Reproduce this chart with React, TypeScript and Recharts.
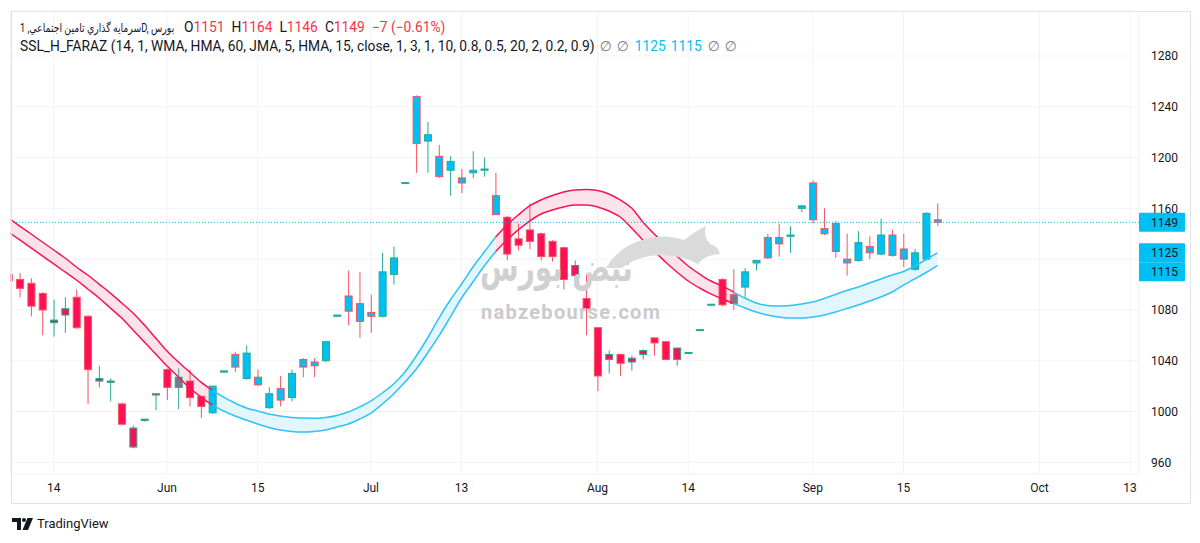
import React from 'react';
import { ComposedChart, Bar, Area, Line, XAxis, YAxis, CartesianGrid, ReferenceLine } from 'recharts';

// ---------- data ----------
const opens = [1108, 1104, 1101, 1093, 1070, 1076, 1090, 1075, 1024, 1023, 1006, 972, 993, 1013, 1033, 1019, 1024, 1012, 999, 1031,
  1045, 1026, 1027, 1003, 1018, 1011, 1041, 1039, 1040, 1075, 1091, 1085, 1078, 1075, 1108, 1180, 1248, 1213, 1201, 1190,
  1184, 1188, 1190, 1170, 1153, 1136, 1143, 1140, 1134, 1129, 1107, 1089, 1066, 1041, 1045, 1039, 1045, 1058, 1055, 1041,
  1046, 1064, 1084, 1104, 1092, 1098, 1117, 1137, 1137, 1138, 1160, 1180, 1144, 1148, 1120, 1119, 1130, 1124, 1139, 1128,
  1112, 1120, 1151];
const highs = [1110, 1109, 1105, 1094, 1088, 1090, 1096, 1076, 1036, 1026, 1007, 989, 994, 1014, 1034, 1034, 1033, 1012, 1020, 1032,
  1047, 1052, 1033, 1019, 1028, 1033, 1042, 1042, 1055, 1076, 1111, 1110, 1092, 1125, 1130, 1180.5, 1249, 1228, 1210, 1201,
  1191, 1205, 1200, 1188, 1154, 1148, 1164, 1141, 1135, 1130, 1119, 1108, 1066, 1048, 1045, 1044, 1049, 1058, 1055, 1050,
  1046.5, 1064.5, 1084.5, 1105, 1112, 1113, 1119, 1140, 1148, 1146, 1162, 1182, 1160, 1150, 1140, 1142, 1138, 1152, 1143, 1140,
  1128, 1157, 1164];
const lows = [1100, 1090, 1075, 1060, 1059, 1062, 1065, 1006, 1019, 1008, 989, 971, 992, 1001, 1009, 1002, 1004, 995, 998, 1031,
  1031, 1025, 1020, 1002, 1004, 1008, 1027, 1027, 1039, 1075, 1068, 1058, 1062, 1074, 1100, 1179.5, 1188, 1188, 1184, 1170,
  1172, 1184, 1185, 1155, 1119, 1127, 1128, 1119, 1118, 1096, 1098, 1060, 1016, 1030, 1028, 1032, 1041, 1044, 1041, 1036,
  1045.5, 1063.5, 1083.5, 1083, 1080, 1090, 1111, 1120, 1122, 1125, 1157, 1148, 1139, 1121, 1107, 1118, 1120, 1123, 1122, 1114,
  1111, 1119, 1146];
const closes = [1103, 1097, 1083, 1080, 1072, 1081, 1066, 1033, 1026, 1024, 990, 987, 994, 1014, 1019, 1027, 1011, 1004, 1020, 1032,
  1035, 1046, 1021, 1014, 1009, 1030, 1035, 1036, 1055, 1076, 1079, 1071, 1075, 1110, 1121, 1180.3, 1211, 1218, 1185, 1197,
  1180, 1190, 1191, 1155, 1124, 1131, 1134, 1122, 1122, 1104, 1115, 1081, 1028, 1045, 1038, 1042, 1048, 1054, 1041, 1050,
  1046.5, 1064.5, 1084.5, 1084, 1085, 1110, 1119, 1121, 1132, 1139, 1162, 1151, 1140, 1126, 1117, 1133, 1125, 1139, 1123, 1120,
  1125, 1156, 1149];

// indicator band (SSL_H_FARAZ) upper / lower lines
const sslUpper = [1152.4, 1146.1, 1139.8, 1133.5, 1127.2, 1120.9, 1113.8, 1107.5, 1100.4, 1093.3, 1085.5, 1077.6, 1068.1, 1057.9,
  1047.7, 1039.0, 1031.1, 1023.2, 1016.9, 1011.4, 1006.7, 1002.8, 1000.4, 998.0, 996.5, 995.3, 994.9, 994.6, 995.3, 996.9,
  999.6, 1003.6, 1008.3, 1014.6, 1021.7, 1031.1, 1043.7, 1057.9, 1073.6, 1087.8, 1100.4, 1113.8, 1125.6, 1137.4, 1146.9,
  1154.8, 1161.9, 1166.6, 1170.1, 1172.9, 1174.5, 1174.9, 1174.1, 1171.3, 1166.6, 1160.3, 1149.3, 1139.8, 1131.1, 1122.5,
  1114.6, 1108.3, 1102.8, 1098.9, 1094.1, 1089.4, 1085.5, 1083.5, 1083.1, 1083.5, 1084.7, 1086.3, 1089.0, 1092.2, 1095.3,
  1098.1, 1101.2, 1104.4, 1107.5, 1110.3, 1114.6, 1119.7, 1125];
const sslLower = [1141.4, 1135.1, 1128.8, 1122.5, 1116.2, 1109.9, 1103.6, 1096.5, 1089.4, 1081.5, 1073.6, 1064.2, 1054.7, 1045.3,
  1035.8, 1027.2, 1018.5, 1011.4, 1005.1, 1000.4, 996.5, 993.3, 990.2, 987.4, 985.4, 984.3, 983.9, 984.3, 985.4, 987.8,
  990.2, 994.1, 998.8, 1005.9, 1013.8, 1023.2, 1033.5, 1046.1, 1059.5, 1074.4, 1089.4, 1102.0, 1114.6, 1125.9, 1135.1,
  1143.0, 1150.0, 1155.6, 1158.7, 1161.1, 1162.6, 1162.6, 1161.1, 1157.9, 1153.2, 1144.5, 1135.1, 1126.4, 1117.8, 1109.9,
  1102.8, 1097.3, 1092.6, 1088.6, 1085.2, 1081.5, 1078.4, 1076.0, 1074.4, 1073.6, 1073.6, 1074.4, 1076.0, 1078.4, 1081.1,
  1083.9, 1087.0, 1090.2, 1094.1, 1099.6, 1104.4, 1109.5, 1115];

// band trend segments [from, to, trend]
const bandSegments: [number, number, string][] = [[0, 18, 'bear'], [18, 43, 'bull'], [43, 64, 'bear'], [64, 82, 'bull']];
// candle body tone runs (b = blue, r = red, g = gray)
const toneRuns: [string, number][] = [['r', 15], ['g', 1], ['r', 2], ['b', 26], ['r', 20], ['g', 1], ['b', 18]];

const xTicks = [4, 14, 22, 32, 40, 52, 60, 71, 79, 91, 99];
const xTickLabels = ['14', 'Jun', '15', 'Jul', '13', 'Aug', '14', 'Sep', '15', 'Oct', '13'];
const yTicks = [960, 1000, 1040, 1080, 1120, 1160, 1200, 1240, 1280];
const yHiddenLabels = [1120]; // covered by the price tags in the reference
const lastClose = 1149;
const sslValues = [1125, 1115];

// ---------- colors ----------
const BLUE = '#00bff3';
const RED_FILL = '#ff1055';
const GRAY = '#787b86';
const TEAL = '#22ab94';
const RED_EDGE = '#f7525f';
const BAND_RED = '#f5145a';
const BAND_BLUE = '#2ec2f5';
const TEXT = '#131722';

const tones: string[] = [];
toneRuns.forEach(([t, n]) => { for (let k = 0; k < n; k++) tones.push(t); });

const segOf = (i: number, t: string) => bandSegments.some(([a, b, tt]) => tt === t && i >= a && i <= b);

const data = opens.map((o, i) => ({
  i,
  o,
  h: highs[i],
  l: lows[i],
  c: closes[i],
  tone: tones[i],
  bearRange: segOf(i, 'bear') ? [sslLower[i], sslUpper[i]] : null,
  bullRange: segOf(i, 'bull') ? [sslLower[i], sslUpper[i]] : null,
  bearUp: segOf(i, 'bear') ? sslUpper[i] : null,
  bearLo: segOf(i, 'bear') ? sslLower[i] : null,
  bullUp: segOf(i, 'bull') ? sslUpper[i] : null,
  bullLo: segOf(i, 'bull') ? sslLower[i] : null,
}));

const Candle = (props: any) => {
  const { x, y, width, height, payload } = props;
  if (payload == null || !isFinite(x) || !isFinite(y)) return null;
  const { o, h, l, c, tone } = payload;
  const cx = x + width / 2;
  const ppu = height / (h - l);
  const Y = (v: number) => y + (h - v) * ppu;
  const up = c >= o;
  const edge = up ? TEAL : RED_EDGE;
  const fill = tone === 'b' ? BLUE : tone === 'g' ? GRAY : RED_FILL;
  const top = Y(Math.max(o, c));
  const bot = Y(Math.min(o, c));
  const bh = Math.max(bot - top, 1);
  return (
    <g>
      <line x1={cx} x2={cx} y1={Y(h)} y2={Y(l)} stroke={edge} strokeWidth={1} />
      <rect x={cx - 3.5} y={top} width={7} height={bh} fill={fill} stroke={edge} strokeWidth={1} />
    </g>
  );
};

const PriceTag = (text: string, shift: number) => (props: any) => {
  const vb = props.viewBox || {};
  const x0 = (vb.x || 0) + (vb.width || 0);
  const yc = (vb.y || 0) + shift;
  return (
    <g>
      <rect x={x0} y={yc - 9.5} width={46} height={19} fill={BLUE} rx={1} />
      <text x={x0 + 12} y={yc} dy="0.355em" fontSize={12} fill={TEXT}>{text}</text>
    </g>
  );
};

const XTick = (props: any) => {
  const { x, y, payload } = props;
  const idx = xTicks.indexOf(payload.value);
  return (
    <text x={x} y={y} dy="0.71em" textAnchor="middle" fontSize={12} fill={TEXT}>
      {idx >= 0 ? xTickLabels[idx] : ''}
    </text>
  );
};

const YTick = (props: any) => {
  const { x, y, payload } = props;
  if (yHiddenLabels.includes(payload.value)) return <g />;
  return (
    <text x={x} y={y} dy="0.355em" textAnchor="start" fontSize={12} fill={TEXT}>
      {payload.value}
    </text>
  );
};

const FONT = "Roboto, 'DejaVu Sans', sans-serif";

export default function App() {
  return (
    <div style={{ position: 'relative', width: 1184, height: 527, fontFamily: FONT, color: TEXT, background: '#fff' }}>
      <ComposedChart
        width={1184}
        height={500}
        data={data}
        margin={{ top: 3, right: 3, bottom: 5, left: 2.7 }}
        style={{ position: 'absolute', left: 0, top: 0 }}
      >
        <CartesianGrid stroke="#f0f3fa" strokeWidth={1} />
        <XAxis
          dataKey="i"
          type="number"
          domain={[0.203, 99.79]}
          allowDataOverflow
          ticks={xTicks}
          interval={0}
          tick={<XTick />}
          tickLine={false}
          axisLine={false}
          tickSize={0}
          tickMargin={9}
          height={29}
        />
        <YAxis
          type="number"
          orientation="right"
          domain={[950.79, 1315.44]}
          allowDataOverflow
          ticks={yTicks}
          interval={0}
          width={50}
          tickLine={false}
          axisLine={false}
          tickSize={0}
          tickMargin={12}
          tick={<YTick />}
        />
        <Area dataKey="bearRange" type="monotone" stroke="none" fill="#fce3ea" fillOpacity={1} isAnimationActive={false} connectNulls={false} />
        <Area dataKey="bullRange" type="monotone" stroke="none" fill="#e3f6fd" fillOpacity={1} isAnimationActive={false} connectNulls={false} />
        <Line dataKey="bearUp" type="monotone" stroke={BAND_RED} strokeWidth={1.5} dot={false} isAnimationActive={false} />
        <Line dataKey="bearLo" type="monotone" stroke={BAND_RED} strokeWidth={1.5} dot={false} isAnimationActive={false} />
        <Line dataKey="bullUp" type="monotone" stroke={BAND_BLUE} strokeWidth={1.5} dot={false} isAnimationActive={false} />
        <Line dataKey="bullLo" type="monotone" stroke={BAND_BLUE} strokeWidth={1.5} dot={false} isAnimationActive={false} />
        <ReferenceLine y={lastClose} stroke={BLUE} strokeDasharray="1 2" strokeWidth={1} label={PriceTag(String(lastClose), 0)} />
        <ReferenceLine y={sslValues[0]} stroke="none" label={PriceTag(String(sslValues[0]), 0)} />
        <ReferenceLine y={sslValues[1]} stroke="none" label={PriceTag(String(sslValues[1]), 6.3)} />
        <Bar dataKey={(d: any) => [d.l, d.h]} barSize={8} shape={<Candle />} isAnimationActive={false} />
      </ComposedChart>

      {/* frame */}
      <div style={{ position: 'absolute', left: 2.5, top: 3, width: 1178, height: 491, border: '1px solid #e0e3eb', pointerEvents: 'none' }} />

      {/* watermark */}
      <svg width={140} height={50} style={{ position: 'absolute', left: 592, top: 212 }} viewBox="0 0 140 50">
        <path d="M6,48 Q20,24 50,18 Q66,14 84,20 Q94,12 106,6 Q103,16 110,24 Q118,26 120,34 Q106,34 98,44 Q84,36 64,35 Q38,35 22,48 Z" fill="#dadada" />
      </svg>
      <div style={{ position: 'absolute', left: 472, top: 236, fontFamily: "'DejaVu Sans', sans-serif", fontWeight: 700, fontSize: 40, color: '#d0d0d0', whiteSpace: 'nowrap', transform: 'scaleX(0.7)', transformOrigin: 'left center' }}>نبض بورس</div>
      <div style={{ position: 'absolute', left: 473, top: 292, fontFamily: FONT, fontWeight: 700, fontSize: 20, letterSpacing: 1.3, color: '#cbcbcb', whiteSpace: 'nowrap' }}>nabzebourse.com</div>

      {/* header */}
      <div style={{ position: 'absolute', left: 12, top: 10, fontSize: 13.8, lineHeight: '18px', whiteSpace: 'nowrap', display: 'flex', alignItems: 'center' }}>
        <span style={{ display: 'inline-block', width: 156, height: 18, overflow: 'visible' }}>
          <span dir="ltr" style={{ unicodeBidi: 'isolate', fontSize: 12, display: 'inline-block', transform: 'scaleX(0.775)', transformOrigin: 'left center' }}>سرمايه گذاري تامين اجتماعي, 1D, بورس</span>
        </span>
        <span style={{ marginLeft: 8 }}>O<span style={{ color: '#f23645' }}>1151</span></span>
        <span style={{ marginLeft: 7 }}>H<span style={{ color: '#f23645' }}>1164</span></span>
        <span style={{ marginLeft: 7 }}>L<span style={{ color: '#f23645' }}>1146</span></span>
        <span style={{ marginLeft: 7 }}>C<span style={{ color: '#f23645' }}>1149</span></span>
        <span style={{ marginLeft: 7, color: '#f23645' }}>−7 (−0.61%)</span>
      </div>
      <div style={{ position: 'absolute', left: 12, top: 29, fontSize: 13.8, lineHeight: '18px', whiteSpace: 'nowrap' }}>
        <span>SSL_H_FARAZ (14, 1, WMA, HMA, 60, JMA, 5, HMA, 15, close, 1, 3, 1, 10, 0.8, 0.5, 20, 2, 0.2, 0.9)</span>
        <span style={{ marginLeft: 5, color: '#787b86' }}>∅</span>
        <span style={{ marginLeft: 5, color: '#787b86' }}>∅</span>
        <span style={{ marginLeft: 6, color: BLUE }}>1125</span>
        <span style={{ marginLeft: 5, color: BLUE }}>1115</span>
        <span style={{ marginLeft: 6, color: '#787b86' }}>∅</span>
        <span style={{ marginLeft: 5, color: '#787b86' }}>∅</span>
      </div>

      {/* TradingView logo */}
      <div style={{ position: 'absolute', left: 4, top: 508, display: 'flex', alignItems: 'center', whiteSpace: 'nowrap' }}>
        <svg width={22} height={12} viewBox="0 0 22 12">
          <rect x={0} y={0} width={9} height={4} fill={TEXT} />
          <rect x={5} y={0} width={4} height={12} fill={TEXT} />
          <circle cx={12} cy={2} r={2} fill={TEXT} />
          <path d="M15.5 0h5.5l-5 12h-5.5z" fill={TEXT} />
        </svg>
        <span style={{ marginLeft: 3, fontSize: 13, color: TEXT }}>TradingView</span>
      </div>
    </div>
  );
}
